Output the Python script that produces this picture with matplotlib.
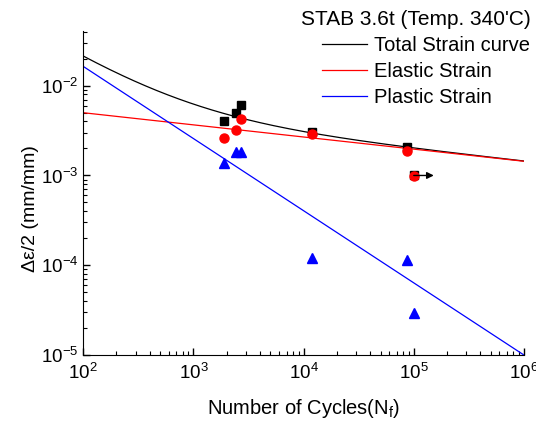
import numpy as np
import matplotlib
matplotlib.use("Agg")
import matplotlib.pyplot as plt

plt.rcParams['font.family'] = ['Liberation Sans', 'DejaVu Sans']
plt.rcParams['mathtext.default'] = 'regular'

# test data (cycles to failure)
n_total = [1900, 2450, 2680, 11800, 86500, 100000]
total_strain = [4.05e-3, 5.0e-3, 6.05e-3, 3.08e-3, 2.06e-3, 1.01e-3]
n_elastic = [1900, 2450, 2680, 11800, 86500, 100000]
elastic_strain = [2.63e-3, 3.19e-3, 4.22e-3, 2.90e-3, 1.87e-3, 0.99e-3]
n_plastic = [1900, 2450, 2680, 11800, 86500, 100000]
plastic_strain = [1.39e-3, 1.81e-3, 1.81e-3, 1.20e-4, 1.15e-4, 2.97e-5]

# fitted Basquin / Coffin-Manson coefficients (strain = A * N^b)
elastic_A, elastic_b = 9.32e-3, -0.1352
plastic_A, plastic_b = 0.664, -0.8037

# runout point
runout_n, runout_strain, runout_end = 100000, 1.0e-3, 1.52e5

N = np.logspace(2, 6, 200)
el = elastic_A * N ** elastic_b
pl = plastic_A * N ** plastic_b

fig = plt.figure(figsize=(5.36, 4.23), dpi=100)
ax = fig.add_axes([0.1554, 0.1608, 0.822, 0.7666])

ax.plot(N, el + pl, color='black', lw=0.9, label='Total Strain curve')
ax.plot(N, el, color='red', lw=0.9, label='Elastic Strain')
ax.plot(N, pl, color='blue', lw=0.9, label='Plastic Strain')

ax.plot(n_total, total_strain, 's', color='black', ms=6, ls='none')
ax.plot(n_elastic, elastic_strain, 'o', color='red', ms=6.5, ls='none')
ax.plot(n_plastic, plastic_strain, '^', color='blue', ms=7, ls='none')

ax.annotate('', xy=(runout_end, runout_strain), xytext=(runout_n, runout_strain),
            arrowprops=dict(arrowstyle='-|>', color='black', lw=1, mutation_scale=10,
                            shrinkA=0, shrinkB=0))

ax.set_xscale('log')
ax.set_yscale('log')
ax.set_xlim(1e2, 1e6)
ax.set_ylim(1e-5, 4.1e-2)

ax.spines['top'].set_visible(False)
ax.spines['right'].set_visible(False)
ax.tick_params(which='both', direction='in', labelsize=13.5, top=False, right=False)
ax.tick_params(which='major', length=5, width=1)
ax.tick_params(which='minor', length=3, width=0.8)
ax.tick_params(axis='x', pad=6)

ax.set_xlabel('Number of Cycles(N$_f$)', fontsize=14.5)
ax.xaxis.set_label_coords(0.5, -0.13)
ax.set_ylabel('Δε/2 (mm/mm)', fontsize=14)
ax.yaxis.set_label_coords(-0.10, 0.45)

leg = ax.legend(loc='upper right', bbox_to_anchor=(1.012, 1.006), bbox_transform=fig.transFigure,
                frameon=False, fontsize=14.5, title='STAB 3.6t (Temp. 340\'C)',
                title_fontsize=15, handlelength=2.25, handletextpad=0.35,
                labelspacing=0.36, borderaxespad=0.2)
leg._legend_box.align = 'right'

fig.savefig('out.png', dpi=100)
